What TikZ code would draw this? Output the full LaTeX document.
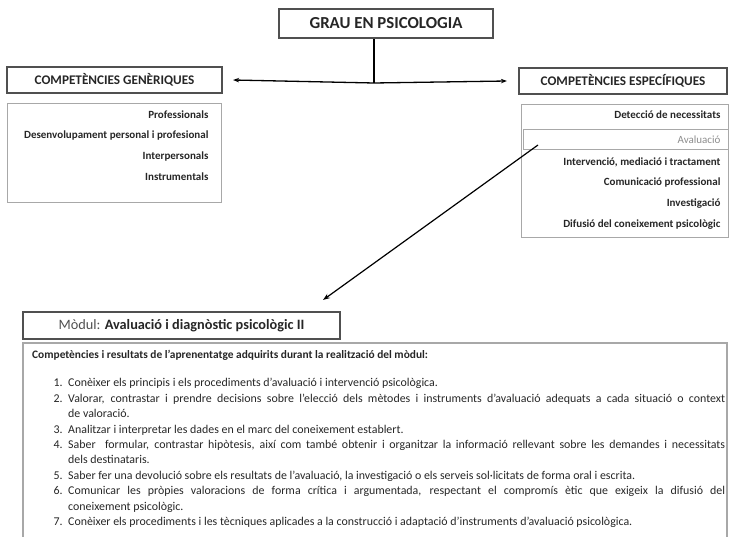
\documentclass[tikz,border=0pt]{standalone}
\usepackage{fontspec}
\setmainfont{Carlito}
\usetikzlibrary{arrows.meta}
\definecolor{tx}{HTML}{262626}
\definecolor{bx}{HTML}{505050}
\definecolor{lb}{HTML}{A8A8A8}
\definecolor{av}{HTML}{8C8C8C}

\begin{document}
\begin{tikzpicture}[x=1pt,y=-1pt,
  hdr/.style={draw=bx,line width=2.2pt,inner sep=0pt,text=tx,font=\bfseries\fontsize{13.2}{15}\selectfont},
  lst/.style={draw=lb,line width=1pt,inner sep=0pt},
  itm/.style={anchor=east,text=tx,font=\bfseries\fontsize{11}{13}\selectfont},
  num/.style={anchor=base west,text=tx,font=\fontsize{11.9}{15.4}\selectfont},
  txt/.style={anchor=base west,inner sep=0pt,text=tx,text width=657pt,align=justify,font=\fontsize{11.9}{15.4}\selectfont}]
\useasboundingbox (0,0) rectangle (729,537);

% top of the tree
\node[hdr,minimum width=214pt,minimum height=29pt,font=\bfseries\fontsize{16.8}{18}\selectfont] (grau) at (386,23.5) {GRAU EN PSICOLOGIA};
\coordinate (split) at (374,83);
\node[hdr,minimum width=215pt,minimum height=26pt] (genhead) at (114.5,80) {COMPETÈNCIES GENÈRIQUES};
\node[hdr,minimum width=208pt,minimum height=26pt] (esphead) at (623,81) {COMPETÈNCIES ESPECÍFIQUES};
\draw[line width=1.3pt] (grau.south -| split) -- (split);
\draw[line width=1.3pt,-{Stealth[length=6pt,width=4.5pt]}] (split) -- ([xshift=10pt]genhead.east);
\draw[line width=1.3pt,-{Stealth[length=6pt,width=4.5pt]}] (split) -- ([xshift=-11pt]esphead.west);

% generic list
\node[lst,minimum width=214pt,minimum height=99pt] (genlist) at (114,153.5) {};
\node[itm] (g1) at (212,115) {Professionals};
\node[itm] (g2) at (212,136) {Desenvolupament personal i profesional};
\node[itm] (g3) at (212,157) {Interpersonals};
\node[itm] (g4) at (212,177) {Instrumentals};

% specific list
\node[lst,minimum width=207pt,minimum height=133pt] (esplist) at (624.5,171.5) {};
\node[lst,minimum width=205pt,minimum height=20pt] (aval) at (625.5,140) {};
\node[itm] (e1) at (724,115) {Detecció de necessitats};
\node[itm,text=av,font=\fontsize{11}{13}\selectfont] (e2) at (724,140) {Avaluació};
\node[itm] (e3) at (724,162) {Intervenció, mediació i tractament};
\node[itm] (e4) at (724,183) {Comunicació professional};
\node[itm] (e5) at (724,204) {Investigació};
\node[itm] (e6) at (724,225) {Difusió del coneixement psicològic};

% module
\node[hdr,line width=2.4pt,minimum width=317pt,minimum height=27pt,font=\fontsize{14.3}{16}\selectfont] (mod) at (181.5,325.5) {\textcolor{bx}{Mòdul:} \textbf{Avaluació i diagnòstic psicològic II}};
\coordinate (avalpt) at (538,145);
\coordinate (modtip) at (323,300);
\draw[line width=1.2pt,-{Stealth[length=7pt,width=5pt]}] (avalpt) -- (modtip);
\draw[lst,line width=1.4pt] (23,560) rectangle (727,343);

\node[anchor=base west,inner sep=0pt,text=tx,font=\bfseries\fontsize{11.4}{13}\selectfont] (head) at (32,358.5) {Competències i resultats de l’aprenentatge adquirits durant la realització del mòdul:};

\node[num] (n1) at (50,387) {1.};
\node[txt] (t1) at (68,387) {Conèixer els principis i els procediments d’avaluació i intervenció psicològica.};
\node[num] (n2) at (50,402.4) {2.};
\node[txt] (t2) at (68,402.4) {Valorar, contrastar i prendre decisions sobre l’elecció dels mètodes i instruments d’avaluació adequats a cada situació o context\linebreak de valoració.};
\node[num] (n3) at (50,433.2) {3.};
\node[txt] (t3) at (68,433.2) {Analitzar i interpretar les dades en el marc del coneixement establert.};
\node[num] (n4) at (50,448.6) {4.};
\node[txt] (t4) at (68,448.6) {Saber~ formular, contrastar hipòtesis, així com també obtenir i organitzar la informació rellevant sobre les demandes i necessitats\linebreak dels destinataris.};
\node[num] (n5) at (50,479.4) {5.};
\node[txt] (t5) at (68,479.4) {Saber fer una devolució sobre els resultats de l’avaluació, la investigació o els serveis sol·licitats de forma oral i escrita.};
\node[num] (n6) at (50,494.8) {6.};
\node[txt] (t6) at (68,494.8) {Comunicar les pròpies valoracions de forma crítica i argumentada, respectant el compromís ètic que exigeix la difusió del\linebreak coneixement psicològic.};
\node[num] (n7) at (50,525.6) {7.};
\node[txt] (t7) at (68,525.6) {Conèixer els procediments i les tècniques aplicades a la construcció i adaptació d’instruments d’avaluació psicològica.};
\end{tikzpicture}
\end{document}
